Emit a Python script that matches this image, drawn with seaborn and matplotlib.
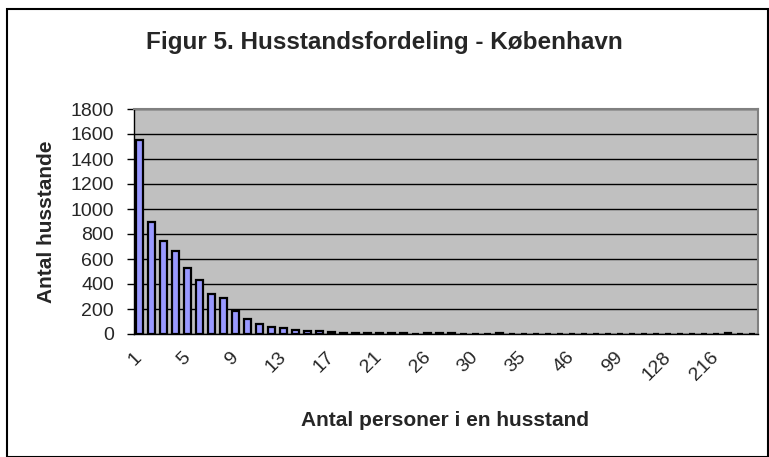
import numpy as np
import pandas as pd
import matplotlib
matplotlib.use("Agg")
import matplotlib.pyplot as plt
import matplotlib.transforms as mtransforms
from matplotlib.patches import Rectangle
from matplotlib.ticker import FixedLocator
import seaborn as sns

# husstandsstoerrelse (antal personer) og antal husstande
persons = [1, 2, 3, 4, 5, 6, 7, 8, 9, 10,
           11, 12, 13, 14, 15, 16, 17, 18, 19, 20,
           21, 22, 23, 25, 26, 27, 28, 29, 30, 31,
           32, 33, 35, 36, 38, 40, 46, 50, 60, 80,
           99, 100, 110, 120, 128, 150, 180, 200, 216, 230,
           250, 300]
households = [1555, 900, 745, 665, 531, 432, 323, 291, 181, 120,
              80, 56, 51, 32, 27, 21, 14, 12, 10, 9,
              8, 7, 6, 1, 5, 5, 5, 4, 1, 1,
              5, 4, 1, 4, 1, 1, 1, 1, 1, 1,
              1, 1, 1, 1, 1, 1, 1, 1, 1, 5,
              0, 0]
label_every = 4

df = pd.DataFrame({'persons': [str(p) for p in persons], 'households': households})

sns.set_style('white')
plt.rcParams['font.family'] = ['Liberation Sans', 'DejaVu Sans']

fig = plt.figure(figsize=(7.69, 4.57), dpi=100)
ax = fig.add_axes([133.5 / 769, 1 - 334 / 457, (758 - 133.5) / 769, (334 - 109) / 457])

sns.barplot(data=df, x='persons', y='households', order=df['persons'], ax=ax,
            color='#9999FF', edgecolor='black', linewidth=1.6, width=0.55,
            saturation=1, zorder=3)

ax.set_facecolor('#C0C0C0')
ax.set_ylim(0, 1800)
ax.set_xlim(-0.5, len(persons) - 0.5)
ax.set_yticks(np.arange(0, 1801, 200))
ax.yaxis.grid(True, color='black', linewidth=1)
ax.set_axisbelow(True)

# kategorimarkeringer paa graenserne, etiketter for hver fjerde
ax.xaxis.set_minor_locator(FixedLocator(np.arange(-0.5, len(persons), 1)))
idx = np.arange(0, len(persons), label_every)
ax.set_xticks(idx)
ax.set_xticklabels([df['persons'][i] for i in idx], rotation=45, ha='right',
                   rotation_mode='anchor', va='center')
shift = mtransforms.ScaledTranslation(-4 / 100, 0, fig.dpi_scale_trans)
for lbl in ax.get_xticklabels():
    lbl.set_transform(lbl.get_transform() + shift)
ax.tick_params(axis='x', which='major', length=0, pad=15, labelsize=14)
ax.tick_params(axis='x', which='minor', length=5, width=1, color='black', direction='out')
ax.tick_params(axis='y', length=5, width=1, color='black', direction='out', pad=9, labelsize=14, left=True)

for side in ['left', 'bottom']:
    ax.spines[side].set_color('black')
    ax.spines[side].set_linewidth(1)
for side in ['top', 'right']:
    ax.spines[side].set_color('#808080')
    ax.spines[side].set_linewidth(1.5)

ax.set_xlabel('')
ax.set_ylabel('')
fig.text(445 / 769, 1 - 420 / 457, 'Antal personer i en husstand',
         ha='center', va='center', fontsize=15, fontweight='bold')
fig.text(47 / 769, 1 - 222 / 457, 'Antal husstande', rotation=90,
         ha='center', va='center', fontsize=15, fontweight='bold')

fig.text(384 / 769, 1 - 43 / 457, 'Figur 5. Husstandsfordeling - København',
         ha='center', va='center', fontsize=17.5, fontweight='bold')

fig.patches.append(Rectangle((6.5 / 769, 0.5 / 457), 761 / 769, 448 / 457,
                             transform=fig.transFigure, fill=False,
                             edgecolor='black', linewidth=1.5))

fig.savefig('out.png', dpi=100)
